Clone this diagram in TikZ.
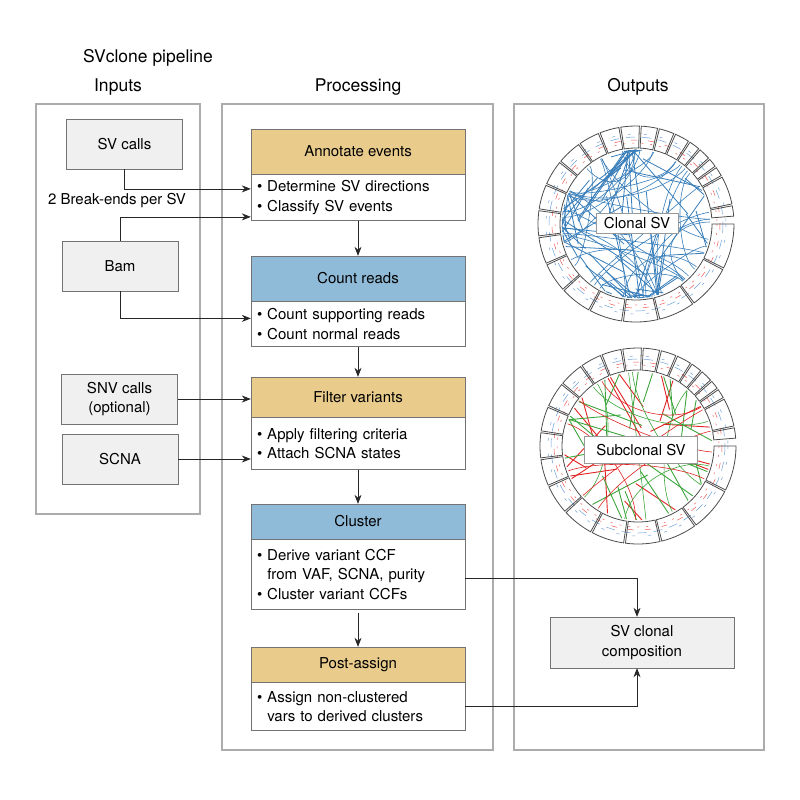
\documentclass[tikz,border=0pt]{standalone}
\usepackage{fontspec}
\setmainfont{TeX Gyre Heros}
\usetikzlibrary{positioning,arrows.meta,calc}

\definecolor{tanhead}{RGB}{233,203,140}
\definecolor{bluehead}{RGB}{143,187,217}
\definecolor{boxgray}{RGB}{240,240,240}
\definecolor{panelgray}{RGB}{172,172,172}
\definecolor{clonalblue}{RGB}{55,125,185}
\definecolor{subred}{RGB}{225,35,35}
\definecolor{subgreen}{RGB}{60,165,60}
\definecolor{cnred}{RGB}{240,90,90}
\definecolor{cnblue}{RGB}{110,160,215}

\tikzset{
  panel/.style={draw=panelgray, line width=2pt},
  inbox/.style={draw=black!55, fill=boxgray, minimum width=116pt, minimum height=50pt, align=center},
  head/.style={draw=black!55, minimum width=214pt, inner sep=0pt},
  bodybox/.style={draw=black!55, fill=white, text width=202pt, inner sep=6pt, align=left},
  flow/.style={-{Stealth[length=9pt,width=7pt]}, black!85, line width=0.7pt},
  chrom/.style={draw=black!70, line width=0.8pt},
  lbl/.style={draw=black!40, fill=white, inner sep=3pt}
}

% chromosome ring of a circos plot, drawn round the origin
\newcommand{\chromring}{%
  \draw[cnred, line width=0.5pt, dash pattern=on 2pt off 7pt] (0,0) circle[radius=81];
  \draw[cnred, line width=0.5pt, dash pattern=on 6pt off 11pt] (0,0) circle[radius=84];
  \draw[cnblue, line width=0.5pt, dash pattern=on 9pt off 7pt] (0,0) circle[radius=87];
  \draw[cnblue, line width=0.5pt, dash pattern=on 3pt off 13pt] (0,0) circle[radius=90];
  \xdef\angpos{0}
  \foreach \len in {249,242,198,190,181,171,159,145,138,134,135,133,114,107,102,90,83,80,59,64,47,51,156,57}{
    \pgfmathsetmacro\angend{\angpos+\len*0.107}
    \draw[chrom] (\angpos:76) arc[start angle=\angpos, end angle=\angend, radius=76]
      -- (\angend:98) arc[start angle=\angend, end angle=\angpos, radius=98] -- cycle;
    \pgfmathsetmacro\angnext{\angend+1.1}
    \xdef\angpos{\angnext}
  }%
}

\begin{document}
\begin{tikzpicture}[x=1pt, y=-1pt, font=\fontsize{15}{19.5}\selectfont]
  \useasboundingbox (0,0) rectangle (800,800);

  % panels and titles
  \draw[panel] (36,104) rectangle (200,514);
  \draw[panel] (222,104) rectangle (493,750);
  \draw[panel] (514,104) rectangle (764,750);
  \node[font=\fontsize{17.5}{20}\selectfont] (title) at (148,58) {SVclone pipeline};
  \node[font=\fontsize{17.5}{20}\selectfont] (intitle) at (118,87) {Inputs};
  \node[font=\fontsize{17.5}{20}\selectfont] (proctitle) at (358,87) {Processing};
  \node[font=\fontsize{17.5}{20}\selectfont] (outtitle) at (638,87) {Outputs};

  % inputs
  \node[inbox] (svcalls) at (124.5,144) {SV calls};
  \node[inbox] (bam) at (120,266) {Bam};
  \node[inbox] (snv) at (119.5,399) {SNV calls\\(optional)};
  \node[inbox] (scna) at (120,459) {SCNA};
  \node (breakends) at (117,201) {2 Break-ends per SV};

  % processing steps
  \node[head, fill=tanhead, minimum height=45pt] (annot) at (358,151.5) {Annotate events};
  \node[bodybox, minimum height=45pt, below=0pt of annot] (annotbody)
    {\textbullet\ Determine SV directions\\\textbullet\ Classify SV events};
  \node[head, fill=bluehead, minimum height=45pt] (count) at (358,278.5) {Count reads};
  \node[bodybox, minimum height=45pt, below=0pt of count] (countbody)
    {\textbullet\ Count supporting reads\\\textbullet\ Count normal reads};
  \node[head, fill=tanhead, minimum height=40pt] (filter) at (358,397) {Filter variants};
  \node[bodybox, minimum height=52pt, below=0pt of filter] (filterbody)
    {\textbullet\ Apply filtering criteria\\\textbullet\ Attach SCNA states};
  \node[head, fill=bluehead, minimum height=35pt] (clust) at (358,521.5) {Cluster};
  \node[bodybox, minimum height=70pt, below=0pt of clust] (clustbody)
    {\textbullet\ Derive variant CCF\\\hphantom{\textbullet\ }from VAF, SCNA, purity\\\textbullet\ Cluster variant CCFs};
  \node[head, fill=tanhead, minimum height=35pt] (post) at (358,664.5) {Post-assign};
  \node[bodybox, minimum height=48pt, below=0pt of post] (postbody)
    {\textbullet\ Assign non-clustered\\\hphantom{\textbullet\ }vars to derived clusters};

  % outputs
  \node[inbox, minimum width=184pt, minimum height=51pt] (comp) at (642,642.5) {SV clonal\\composition};

  % clonal circos
  \begin{scope}[shift={(636,224)}]
    \pgfmathsetseed{11}
    \foreach \i in {1,...,70}{
      \pgfmathsetmacro\ca{{270,268,185,170,200,95,75,110,20,330}[int(10*rnd)]}
      \pgfmathsetmacro\cb{{270,185,165,95,75,120,250,20,300}[int(9*rnd)]}
      \pgfmathsetmacro\a{\ca+16*rnd-8}
      \pgfmathsetmacro\b{\cb+30*rnd-15}
      \pgfmathsetmacro\t{0.3+0.5*rnd}
      \draw[clonalblue, line width=0.8pt] (\a:74) -- ($(\a:74)!\t!(\b:74)$);
    }
    \foreach \i in {1,...,30}{
      \pgfmathsetmacro\a{360*rnd}
      \pgfmathsetmacro\b{\a+40+120*rnd}
      \pgfmathsetmacro\k{35+30*rnd}
      \draw[clonalblue, line width=0.6pt] (\a:74) .. controls (\a:\k) and (\b:\k) .. (\b:74);
    }
    \chromring
    \node[lbl, minimum width=82pt, minimum height=20pt] (clonallbl) at (1,-1) {Clonal SV};
  \end{scope}

  % subclonal circos
  \begin{scope}[shift={(638,446)}]
    \pgfmathsetseed{5}
    \foreach \i in {1,...,18}{
      \pgfmathsetmacro\a{360*rnd}
      \pgfmathsetmacro\b{\a+90+180*rnd}
      \pgfmathsetmacro\t{0.2+0.3*rnd}
      \draw[subred, line width=0.9pt] (\a:74) -- ($(\a:74)!\t!(\b:74)$);
    }
    \foreach \i in {1,...,24}{
      \pgfmathsetmacro\a{360*rnd}
      \pgfmathsetmacro\b{\a+90+180*rnd}
      \pgfmathsetmacro\t{0.2+0.3*rnd}
      \draw[subgreen, line width=0.9pt] (\a:74) -- ($(\a:74)!\t!(\b:74)$);
    }
    \foreach \i in {1,...,6}{
      \pgfmathsetmacro\a{360*rnd}
      \pgfmathsetmacro\b{\a+60+120*rnd}
      \draw[subred, line width=0.6pt] (\a:74) .. controls (\a:40) and (\b:40) .. (\b:74);
      \pgfmathsetmacro\c{360*rnd}
      \pgfmathsetmacro\d{\c+60+120*rnd}
      \draw[subgreen, line width=0.6pt] (\c:74) .. controls (\c:40) and (\d:40) .. (\d:74);
    }
    \chromring
    \node[lbl, minimum width=113pt, minimum height=27pt] (sublbl) at (3,4) {Subclonal SV};
  \end{scope}

  % connectors
  \draw[flow] (svcalls.south) |- ([yshift=8.5pt]annotbody.west);
  \draw[flow] (bam.north) |- ([yshift=-19.5pt]annotbody.west);
  \draw[flow] (bam.south) |- ([yshift=5.5pt]countbody.west);
  \draw[flow] (snv.east) -- (snv.east -| filter.west);
  \draw[flow] (scna.east) -- (scna.east -| filterbody.west);
  \draw[flow] (annotbody.south) -- (count.north);
  \draw[flow] (countbody.south) -- (filter.north);
  \draw[flow] (filterbody.south) -- (clust.north);
  \draw[flow] ([yshift=-3pt]clustbody.south) -- (post.north);
  \draw[flow] ([yshift=-4pt]clustbody.east) -| ([xshift=-5pt]comp.north);
  \draw[flow] (postbody.east) -| ([xshift=-5pt]comp.south);
\end{tikzpicture}
\end{document}
